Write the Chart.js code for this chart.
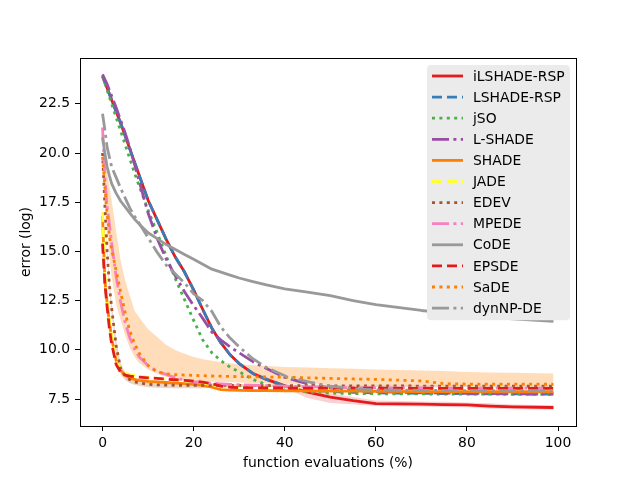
<!DOCTYPE html>
<html>
<head>
<meta charset="utf-8">
<script src="https://cdn.jsdelivr.net/npm/chart.js@4.4.0/dist/chart.umd.min.js"></script>
<style>
    html, body { margin: 0; padding: 0; background: #fff; }
</style>
</head>
<body>
<canvas id="chart" width="640" height="480"></canvas>
<script>
const evals = [0, 0.5, 1, 1.5, 2, 3, 4, 5, 6, 7, 8, 10, 12, 14, 16, 18, 20, 22, 24, 26, 28, 30, 33, 36, 40, 45, 50, 55, 60, 70, 75, 80, 85, 90, 99];

// mean error (log) per algorithm
const ilshadeRsp = [23.9, 23.6, 23.3, 23.0, 22.7, 22.1, 21.5, 20.85, 20.2, 19.55, 18.9, 17.6, 16.6, 15.6, 14.7, 13.95, 13.05, 12.05, 11.1, 10.35, 9.75, 9.3, 8.8, 8.5, 8.17, 7.85, 7.6, 7.42, 7.27, 7.24, 7.22, 7.2, 7.14, 7.1, 7.07];
const lshadeRsp = [23.9, 23.6, 23.3, 23.0, 22.7, 22.1, 21.5, 20.85, 20.2, 19.55, 18.9, 17.6, 16.6, 15.6, 14.7, 13.95, 13.05, 12.05, 11.1, 10.35, 9.75, 9.3, 8.8, 8.5, 8.17, 7.97, 7.88, 7.84, 7.81, 7.79, 7.78, 7.77, 7.76, 7.76, 7.75];
const jso = [23.9, 23.55, 23.2, 22.85, 22.5, 21.8, 21.1, 20.4, 19.7, 19.0, 18.35, 17.1, 15.95, 14.75, 13.6, 12.55, 11.5, 10.5, 9.85, 9.45, 9.12, 8.88, 8.5, 8.22, 8.0, 7.86, 7.8, 7.78, 7.77, 7.76, 7.75, 7.75, 7.75, 7.74, 7.74];
const lshade = [24.0, 23.75, 23.5, 23.2, 22.9, 22.3, 21.65, 21.0, 20.25, 19.45, 18.6, 16.95, 15.65, 14.6, 13.75, 12.95, 12.25, 11.6, 10.9, 10.5, 10.15, 9.85, 9.4, 9.05, 8.6, 8.28, 8.05, 7.95, 7.88, 7.82, 7.8, 7.79, 7.78, 7.77, 7.77];
const shade = [16.8, 13.6, 12.4, 11.4, 10.6, 9.45, 8.95, 8.7, 8.55, 8.5, 8.45, 8.4, 8.37, 8.34, 8.31, 8.28, 8.25, 8.2, 8.1, 7.98, 7.95, 7.94, 7.93, 7.93, 7.92, 7.91, 7.9, 7.9, 7.89, 7.88, 7.88, 7.88, 7.87, 7.87, 7.87];
const jade = [17.0, 13.8, 12.6, 11.5, 10.65, 9.5, 9.0, 8.82, 8.74, 8.69, 8.65, 8.6, 8.55, 8.5, 8.46, 8.42, 8.38, 8.32, 8.22, 8.14, 8.12, 8.1, 8.09, 8.08, 8.08, 8.07, 8.06, 8.06, 8.05, 8.05, 8.05, 8.05, 8.05, 8.05, 8.05];
const edev = [20.0, 17.4, 15.0, 13.3, 12.1, 10.2, 9.0, 8.65, 8.48, 8.38, 8.32, 8.25, 8.22, 8.21, 8.2, 8.2, 8.2, 8.2, 8.2, 8.2, 8.19, 8.19, 8.19, 8.18, 8.18, 8.18, 8.17, 8.17, 8.17, 8.16, 8.16, 8.16, 8.15, 8.15, 8.15];
const mpede = [21.3, 18.8, 17.3, 16.4, 15.4, 13.7, 12.4, 11.35, 10.6, 10.05, 9.65, 9.2, 8.9, 8.75, 8.58, 8.46, 8.38, 8.33, 8.3, 8.27, 8.25, 8.23, 8.2, 8.18, 8.15, 8.12, 8.1, 8.08, 8.07, 8.06, 8.06, 8.05, 8.05, 8.05, 8.05];
const code = [20.8, 20.0, 19.3, 18.85, 18.45, 17.95, 17.55, 17.25, 16.95, 16.65, 16.4, 15.95, 15.65, 15.35, 15.1, 14.85, 14.6, 14.35, 14.1, 13.95, 13.8, 13.65, 13.47, 13.3, 13.1, 12.93, 12.75, 12.5, 12.3, 12.0, 11.88, 11.76, 11.66, 11.58, 11.45];
const epsde = [15.4, 13.4, 12.2, 11.1, 10.3, 9.25, 8.85, 8.72, 8.66, 8.63, 8.61, 8.58, 8.55, 8.51, 8.48, 8.45, 8.41, 8.36, 8.28, 8.16, 8.1, 8.08, 8.07, 8.06, 8.06, 8.05, 8.05, 8.05, 8.05, 8.04, 8.04, 8.04, 8.04, 8.04, 8.04];
const sade = [19.8, 18.3, 16.9, 15.8, 15.1, 14.0, 12.9, 11.85, 10.95, 10.35, 9.85, 9.2, 8.88, 8.78, 8.74, 8.72, 8.7, 8.69, 8.67, 8.66, 8.65, 8.64, 8.63, 8.62, 8.61, 8.58, 8.55, 8.52, 8.5, 8.42, 8.28, 8.26, 8.26, 8.26, 8.25];
const dynnpDe = [22.0, 21.2, 20.3, 19.8, 19.3, 18.75, 18.2, 17.7, 17.2, 16.8, 16.45, 15.7, 14.95, 14.3, 13.85, 13.4, 12.85, 12.5, 11.95, 11.15, 10.6, 10.15, 9.55, 9.1, 8.68, 8.38, 8.15, 8.02, 7.97, 7.94, 7.93, 7.93, 7.92, 7.92, 7.92];

// spread bands that are visible in the picture
const sadeUpper = [20.0, 19.6, 19.0, 18.3, 17.6, 16.0, 14.5, 13.5, 12.75, 12.0, 11.65, 11.05, 10.65, 10.25, 9.98, 9.8, 9.63, 9.52, 9.44, 9.37, 9.32, 9.27, 9.22, 9.18, 9.13, 9.1, 9.07, 9.04, 9.0, 8.95, 8.92, 8.88, 8.85, 8.83, 8.8];
const sadeLower = [19.6, 17.8, 16.2, 14.8, 13.7, 12.3, 11.5, 10.7, 10.1, 9.65, 9.35, 9.0, 8.78, 8.62, 8.52, 8.46, 8.42, 8.4, 8.38, 8.36, 8.35, 8.34, 8.32, 8.3, 8.28, 8.26, 8.24, 8.23, 8.22, 8.2, 8.2, 8.2, 8.2, 8.2, 8.2];
const ilshadeUpper = [24.0, 23.7, 23.4, 23.1, 22.8, 22.2, 21.6, 20.95, 20.3, 19.65, 19.0, 17.7, 16.7, 15.7, 14.8, 14.05, 13.15, 12.15, 11.2, 10.45, 9.85, 9.4, 8.9, 8.6, 8.27, 8.0, 7.8, 7.6, 7.42, 7.38, 7.36, 7.33, 7.28, 7.22, 7.18];
const ilshadeLower = [23.8, 23.5, 23.2, 22.9, 22.6, 22.0, 21.4, 20.75, 20.1, 19.45, 18.8, 17.5, 16.5, 15.5, 14.6, 13.85, 12.95, 11.95, 11.0, 10.25, 9.65, 9.2, 8.7, 8.4, 8.05, 7.55, 7.3, 7.22, 7.15, 7.12, 7.1, 7.08, 7.02, 6.98, 6.96];
const edevUpper = [20.1, 17.6, 15.3, 13.6, 12.4, 10.5, 9.3, 8.85, 8.65, 8.55, 8.48, 8.42, 8.38, 8.36, 8.35, 8.34, 8.33, 8.32, 8.3, 8.28, 8.27, 8.26, 8.25, 8.24, 8.24, 8.23, 8.23, 8.22, 8.22, 8.21, 8.21, 8.21, 8.2, 8.2, 8.2];
const edevLower = [19.9, 17.2, 14.7, 13.0, 11.8, 9.9, 8.75, 8.45, 8.3, 8.22, 8.17, 8.1, 8.07, 8.06, 8.05, 8.05, 8.05, 8.05, 8.06, 8.08, 8.09, 8.1, 8.11, 8.11, 8.11, 8.11, 8.11, 8.11, 8.11, 8.1, 8.1, 8.1, 8.1, 8.1, 8.1];

const xTicks = [0, 20, 40, 60, 80, 100];
const yTicks = [7.5, 10, 12.5, 15, 17.5, 20, 22.5];

// matplotlib-like dash patterns for a ~2.8px line
const SOLID = [];
const DASHED = [10, 5];
const DOTTED = [3, 4.4];
const DASHDOT = [17, 4.4, 3, 4.4];

const series = [
    { label: 'iLSHADE-RSP', data: ilshadeRsp, color: '#e41a1c', dash: SOLID },
    { label: 'LSHADE-RSP', data: lshadeRsp, color: '#377eb8', dash: DASHED },
    { label: 'jSO', data: jso, color: '#4daf4a', dash: DOTTED },
    { label: 'L-SHADE', data: lshade, color: '#984ea3', dash: DASHDOT },
    { label: 'SHADE', data: shade, color: '#ff7f00', dash: SOLID },
    { label: 'JADE', data: jade, color: '#ffff33', dash: DASHED },
    { label: 'EDEV', data: edev, color: '#a65628', dash: DOTTED },
    { label: 'MPEDE', data: mpede, color: '#f781bf', dash: DASHDOT },
    { label: 'CoDE', data: code, color: '#999999', dash: SOLID },
    { label: 'EPSDE', data: epsde, color: '#e41a1c', dash: DASHED },
    { label: 'SaDE', data: sade, color: '#ff7f00', dash: DOTTED },
    { label: 'dynNP-DE', data: dynnpDe, color: '#999999', dash: DASHDOT }
];

const bands = [
    { upper: sadeUpper, lower: sadeLower, fill: 'rgba(255, 127, 0, 0.27)' },
    { upper: ilshadeUpper, lower: ilshadeLower, fill: 'rgba(228, 26, 28, 0.2)' },
    { upper: edevUpper, lower: edevLower, fill: 'rgba(166, 86, 40, 0.25)' }
];

function toPoints(values) {
    return evals.map((x, i) => ({ x: x, y: values[i] }));
}

const datasets = [];
bands.forEach((b, i) => {
    datasets.push({
        label: '', data: toPoints(b.upper), borderWidth: 0, pointRadius: 0,
        fill: false, order: 1000 + i * 2
    });
    datasets.push({
        label: '', data: toPoints(b.lower), borderWidth: 0, pointRadius: 0,
        backgroundColor: b.fill, fill: '-1', order: 999 + i * 2
    });
});
series.forEach((s, i) => {
    datasets.push({
        label: s.label,
        data: toPoints(s.data),
        borderColor: s.color,
        borderDash: s.dash,
        borderWidth: 2.8,
        borderJoinStyle: 'round',
        pointRadius: 0,
        fill: false,
        // later series sit on top, as in the original plot
        order: 100 - i
    });
});

const FONT = { family: 'DejaVu Sans', size: 13.9 };

// black box round the axes, like matplotlib spines
const frame = {
    id: 'frame',
    afterDatasetsDraw(chart) {
        const { ctx, chartArea: a } = chart;
        ctx.save();
        ctx.strokeStyle = '#000';
        ctx.lineWidth = 1;
        ctx.strokeRect(Math.round(a.left) + 0.5, Math.round(a.top) + 0.5,
            Math.round(a.right - a.left), Math.round(a.bottom - a.top));
        ctx.restore();
    }
};

// legend box in the upper right corner
const legendBox = {
    id: 'legendBox',
    afterDraw(chart) {
        const { ctx, chartArea: a } = chart;
        const w = 143, rowH = 21.1;
        const x0 = a.right - 6 - w, y0 = a.top + 7;
        const h = rowH * series.length + 2;
        ctx.save();
        ctx.fillStyle = '#ebebeb';
        ctx.beginPath();
        ctx.roundRect(x0, y0, w, h, 4);
        ctx.fill();
        ctx.font = FONT.size + 'px "' + FONT.family + '"';
        ctx.textBaseline = 'middle';
        ctx.textAlign = 'left';
        series.forEach((s, i) => {
            const y = y0 + 11 + i * rowH;
            ctx.strokeStyle = s.color;
            ctx.lineWidth = 2.8;
            ctx.setLineDash(s.dash);
            ctx.beginPath();
            ctx.moveTo(x0 + 5, y);
            ctx.lineTo(x0 + 36, y);
            ctx.stroke();
            ctx.setLineDash([]);
            ctx.fillStyle = '#000';
            ctx.fillText(s.label, x0 + 46, y + 1);
        });
        ctx.restore();
    }
};

new Chart(document.getElementById('chart'), {
    type: 'line',
    data: { datasets: datasets },
    options: {
        responsive: false,
        animation: false,
        devicePixelRatio: 1,
        layout: { padding: { top: 58, right: 64, bottom: 0, left: 0 } },
        plugins: {
            legend: { display: false },
            tooltip: { enabled: false }
        },
        elements: { line: { tension: 0 }, point: { radius: 0 } },
        scales: {
            x: {
                type: 'linear',
                min: -4.95,
                max: 103.95,
                afterBuildTicks: s => { s.ticks = xTicks.map(v => ({ value: v })); },
                afterFit: s => { s.height = 54; },
                grid: { drawOnChartArea: false, drawTicks: true, tickLength: 5, color: '#000' },
                border: { display: true, color: '#000' },
                ticks: {
                    color: '#000', font: FONT, padding: 4, maxRotation: 0, autoSkip: false,
                    callback: v => String(v)
                },
                title: {
                    display: true, text: 'function evaluations (%)', color: '#000', font: FONT,
                    padding: { top: 0, bottom: 8.7 }
                }
            },
            y: {
                type: 'linear',
                min: 6.13,
                max: 24.83,
                afterBuildTicks: s => { s.ticks = yTicks.map(v => ({ value: v })); },
                afterFit: s => { s.width = 80; },
                grid: { drawOnChartArea: false, drawTicks: true, tickLength: 5, color: '#000' },
                border: { display: true, color: '#000' },
                ticks: {
                    color: '#000', font: FONT, padding: 5, autoSkip: false,
                    callback: v => v.toFixed(1)
                },
                title: {
                    display: true, text: 'error (log)', color: '#000', font: FONT,
                    padding: { top: 17.7, bottom: 0 }
                }
            }
        }
    },
    plugins: [frame, legendBox]
});
</script>
</body>
</html>
